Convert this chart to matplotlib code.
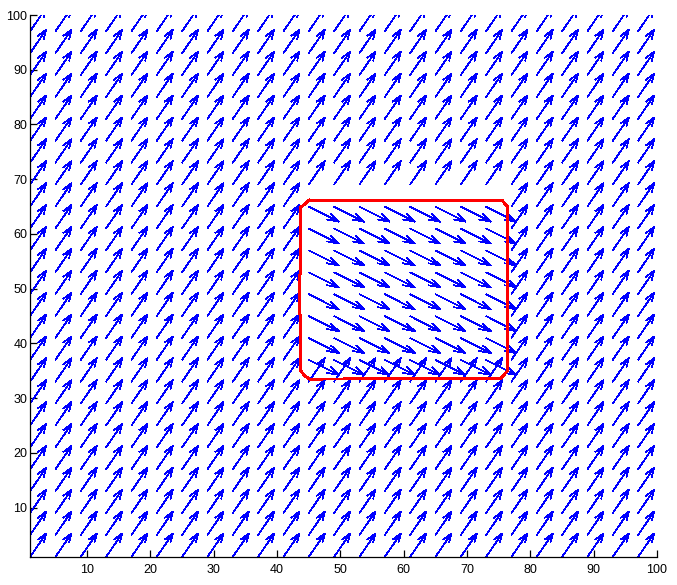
import numpy as np
import matplotlib
matplotlib.use("Agg")
import matplotlib.pyplot as plt
from matplotlib.collections import LineCollection

# grid of arrow tails
grid_x = [1, 5, 9, 13, 17, 21, 25, 29, 33, 37, 41, 45, 49, 53, 57, 61, 65, 69, 73, 77, 81, 85, 89, 93, 97]
grid_y = [1, 5, 9, 13, 17, 21, 25, 29, 33, 37, 41, 45, 49, 53, 57, 61, 65, 69, 73, 77, 81, 85, 89, 93, 97]

# vector field (data units): outside region and inside region
outside_u, outside_v = 2.55, 4.3
inside_u, inside_v = 4.75, -2.75
inside_x_range = [45, 73]
inside_y_range = [37, 65]

# red contour
contour_x = [45.1, 75.5, 76.4, 76.4, 75.3, 45.1, 44.3, 43.7, 43.7, 43.5, 43.5, 43.7, 43.7, 45.1]
contour_y = [66.2, 66.2, 65.0, 35.0, 33.6, 33.5, 34.2, 35.1, 45.0, 46.0, 52.0, 53.0, 64.8, 66.2]

xticks = [10, 20, 30, 40, 50, 60, 70, 80, 90, 100]
yticks = [10, 20, 30, 40, 50, 60, 70, 80, 90, 100]

X, Y = np.meshgrid(grid_x, grid_y)
inside = ((X >= inside_x_range[0]) & (X <= inside_x_range[1]) &
          (Y >= inside_y_range[0]) & (Y <= inside_y_range[1]))
U = np.where(inside, inside_u, outside_u)
V = np.where(inside, inside_v, outside_v)

alpha, beta = 0.33, 0.33
segs = []
for x, y, u, v in zip(X.ravel(), Y.ravel(), U.ravel(), V.ravel()):
    tx, ty = x + u, y + v
    segs.append([(x, y), (tx, ty)])
    h1 = (tx - alpha * (u + beta * v), ty - alpha * (v - beta * u))
    h2 = (tx - alpha * (u - beta * v), ty - alpha * (v + beta * u))
    segs.append([h1, (tx, ty), h2])

fig = plt.figure(figsize=(6.77, 5.85), dpi=100)
ax = fig.add_axes([30 / 677, 28 / 585, 627 / 677, 542 / 585])
lc = LineCollection(segs, colors="#0000ff", linewidths=0.5, antialiaseds=False)
ax.add_collection(lc)
ax.plot(contour_x, contour_y, color="#ff0000", linewidth=1.4, antialiased=False,
        solid_joinstyle="round")

ax.set_xlim(1, 100)
ax.set_ylim(1, 100)
ax.set_xticks(xticks)
ax.set_yticks(yticks)
for s in ["top", "right"]:
    ax.spines[s].set_visible(False)
for s in ["left", "bottom"]:
    ax.spines[s].set_linewidth(0.9)
ax.tick_params(direction="in", length=5, width=0.9, labelsize=9, pad=3)
for lab in ax.get_xticklabels() + ax.get_yticklabels():
    lab.set_family("Liberation Sans")
ax.tick_params(axis="y", pad=2)
ax.tick_params(axis="x", pad=5)

fig.savefig("out.png", dpi=100)
